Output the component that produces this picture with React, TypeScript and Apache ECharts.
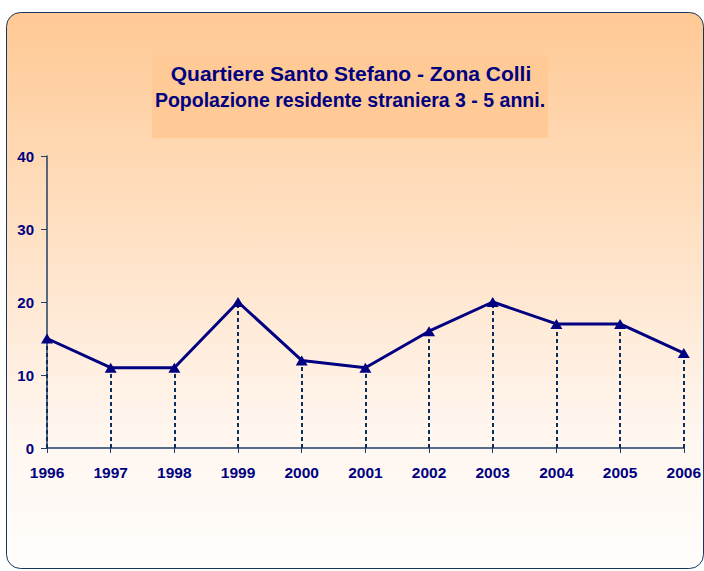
import React, { useEffect, useRef } from "react";
import * as echarts from "echarts";

const years = ["1996", "1997", "1998", "1999", "2000", "2001", "2002", "2003", "2004", "2005", "2006"];
const values = [15, 11, 11, 20, 12, 11, 16, 20, 17, 17, 13];
const titleLines = ["Quartiere Santo Stefano - Zona Colli", "Popolazione residente straniera 3 - 5 anni."];

export default function App() {
  const ref = useRef<HTMLDivElement>(null);
  useEffect(() => {
    document.body.style.margin = "0";
    const chart = echarts.init(ref.current!, null, { renderer: "svg" });
    const navy = "#000080";
    const axisColor = "#1F3F66";
    const font = "'Liberation Sans', Arial, sans-serif";
    chart.setOption({
      animation: false,
      backgroundColor: "#FFFFFF",
      graphic: [
        {
          type: "rect",
          z: -10,
          shape: { x: 6.5, y: 12.5, width: 697, height: 556, r: 14 },
          style: {
            fill: new echarts.graphic.LinearGradient(0, 0, 0, 1, [
              { offset: 0, color: "#FFC994" },
              { offset: 0.75, color: "#FFF6EF" },
              { offset: 1, color: "#FFFDFB" },
            ]),
            stroke: "#17365D",
            lineWidth: 1,
          },
        },
        {
          type: "rect",
          z: -9,
          shape: { x: 152, y: 55, width: 396, height: 83 },
          style: { fill: "#FFCA96" },
        },
        {
          type: "text",
          z: 10,
          x: 351,
          y: 73,
          style: {
            text: titleLines[0],
            font: "bold 21px " + font,
            fill: navy,
            align: "center",
            verticalAlign: "middle",
          },
        },
        {
          type: "text",
          z: 10,
          x: 350,
          y: 100,
          style: {
            text: titleLines[1],
            font: "bold 19.5px " + font,
            fill: navy,
            align: "center",
            verticalAlign: "middle",
          },
        },
      ],
      grid: { left: 47, right: 17, top: 156, bottom: 123, containLabel: false },
      xAxis: {
        type: "category",
        data: years,
        boundaryGap: false,
        axisLine: { show: true, lineStyle: { color: axisColor, width: 1.5 } },
        axisTick: { show: true, length: 5, alignWithLabel: true, lineStyle: { color: axisColor } },
        axisLabel: {
          color: navy,
          fontWeight: "bold",
          fontSize: 15.5,
          fontFamily: font,
          margin: 16,
        },
        splitLine: { show: false },
      },
      yAxis: {
        type: "value",
        min: 0,
        max: 40,
        interval: 10,
        axisLine: { show: true, lineStyle: { color: axisColor, width: 1.5 } },
        axisTick: { show: true, length: 6, lineStyle: { color: axisColor } },
        axisLabel: {
          color: navy,
          fontWeight: "bold",
          fontSize: 15,
          fontFamily: font,
          margin: 13,
        },
        splitLine: { show: false },
      },
      series: [
        {
          type: "line",
          data: values,
          symbol: "triangle",
          symbolSize: [12, 10],
          lineStyle: { color: navy, width: 3 },
          itemStyle: { color: navy },
          z: 5,
          markLine: {
            silent: true,
            symbol: "none",
            label: { show: false },
            lineStyle: { color: "#0A2F5E", type: [4, 3], width: 2 },
            data: values.map((v, i) => [
              { coord: [i, 0] },
              { coord: [i, v] },
            ]),
            z: 2,
          },
        },
      ],
    });
    return () => chart.dispose();
  }, []);
  return <div ref={ref} style={{ width: 704, height: 571 }} />;
}
